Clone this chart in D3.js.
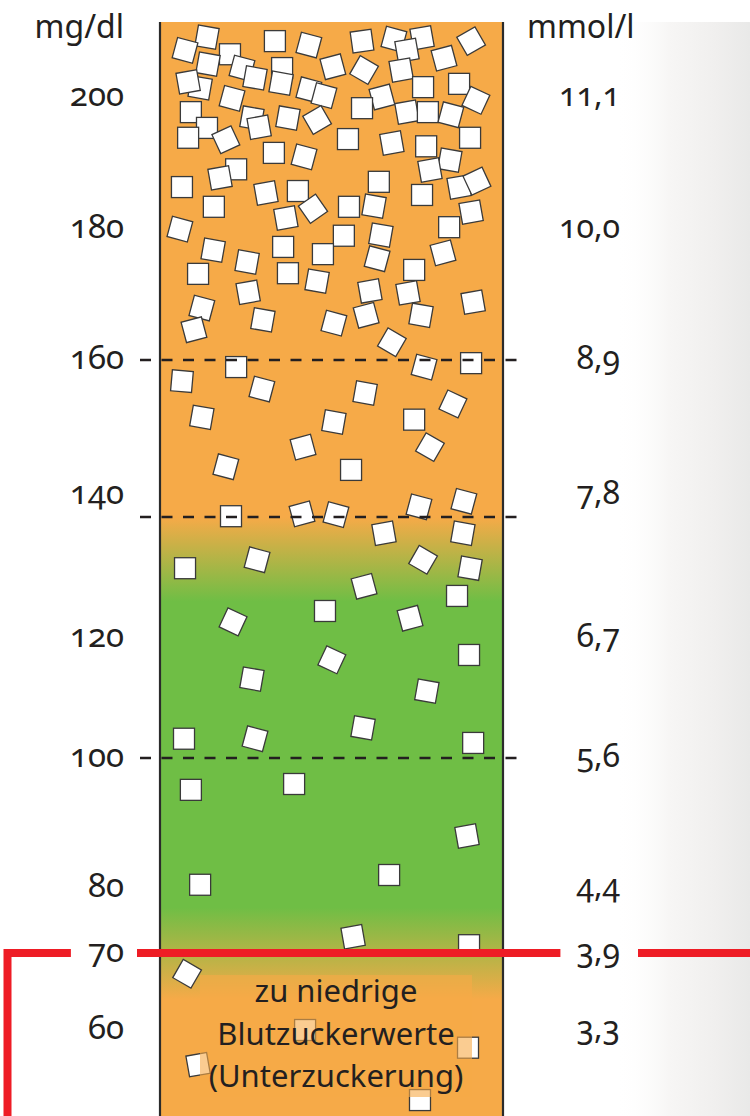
<!DOCTYPE html>
<html>
<head>
<meta charset="utf-8">
<script src="https://cdn.jsdelivr.net/npm/d3@7"></script>
<style>
  html, body { margin: 0; padding: 0; background: #ffffff; }
  svg { display: block; }
  text { font-family: "Noto Sans", "Open Sans", sans-serif; font-weight: 400; font-variant-numeric: oldstyle-nums; font-feature-settings: "onum" 1; fill: #231f20; }
</style>
</head>
<body>
<script>
// Blood glucose scale (mg/dl on the left, mmol/l on the right)
const mgdlTicks = [200, 180, 160, 140, 120, 100, 80, 70, 60];
const mmolTicks = ["11,1", "10,0", "8,9", "7,8", "6,7", "5,6", "4,4", "3,9", "3,3"];
const thresholdLines = [160, 140, 100];
const hypoLimit = 70;
const hypoLimitMmol = "3,9";

// colour zones of the column (mg/dl where each colour stop sits)
const zoneLevels = [140, 126, 77, 64];
const zoneColors = ["#F6AA48", "#6FBE45", "#6FBE45", "#F6AA48"];

const noteLines = ["zu niedrige", "Blutzuckerwerte", "(Unterzuckerung)"];

// sugar cubes: glucose level (mg/dl), position across the column (%), tilt (deg)
const cubeLevel = [
  209.1, 207.1, 208.5, 207.9, 208.5, 208.8, 209.0, 208.5, 206.5, 207.1,
  205.0, 204.4, 204.4, 204.6, 204.1, 205.9, 204.1, 201.4, 202.3, 202.9,
  202.1, 201.1, 200.2, 199.8, 200.0, 201.5, 202.0, 199.5, 197.7, 198.3,
  197.7, 197.7, 197.3, 196.8, 195.4, 196.8, 196.5, 195.3, 193.8, 193.5,
  193.6, 193.0, 193.8, 192.5, 191.5, 190.9, 190.4, 189.0, 187.7, 186.3,
  183.3, 185.4, 185.7, 183.0, 181.6, 183.3, 183.4, 187.1, 188.9, 185.1,
  186.3, 187.2, 182.5, 180.2, 179.9, 178.9, 177.2, 176.1, 179.0, 175.4,
  176.7, 174.9, 176.3, 173.1, 173.2, 172.0, 173.7, 170.5, 170.2, 170.3,
  167.9, 168.8, 166.1, 165.6, 166.8, 166.8, 164.6, 162.7, 159.1, 157.3,
  156.3, 159.1, 159.6, 155.8, 154.4, 152.7, 152.1, 152.4, 148.9, 148.9,
  146.4, 146.0, 140.1, 140.4, 140.3, 141.3, 142.0, 137.3, 137.3, 131.5,
  132.9, 132.9, 131.5, 128.5, 126.9, 124.4, 123.2, 122.6, 117.1, 116.3,
  113.1, 111.1, 105.0, 103.2, 103.2, 102.5, 95.1, 96.0, 88.0, 80.5,
  82.0, 72.5, 71.2, 67.3, 60.0, 57.7, 55.5, 50.9
];
const cubeAcross = [
  13.7, 7.3, 33.5, 43.4, 58.9, 68.2, 76.4, 90.7, 20.4, 72.0,
  14.0, 23.9, 35.6, 50.4, 59.5, 82.8, 70.3, 11.7, 8.2, 27.7,
  35.3, 43.4, 47.8, 21.0, 64.7, 76.7, 87.2, 92.1, 9.0, 58.9,
  72.0, 78.1, 84.8, 26.8, 28.9, 37.3, 45.8, 13.7, 8.2, 19.2,
  54.8, 67.6, 90.4, 77.6, 33.2, 42.0, 84.5, 22.2, 17.5, 6.4,
  15.7, 30.9, 40.2, 44.6, 36.7, 55.1, 62.4, 63.8, 78.7, 76.4,
  87.2, 92.4, 90.7, 84.3, 5.8, 53.6, 35.9, 47.5, 64.4, 63.3,
  15.5, 25.4, 82.5, 11.1, 37.3, 45.8, 74.1, 61.2, 72.3, 25.7,
  12.2, 91.3, 30.0, 50.7, 60.1, 76.1, 9.9, 67.6, 22.2, 6.4,
  29.7, 77.0, 90.7, 59.8, 85.4, 12.2, 50.7, 74.1, 41.7, 78.7,
  19.2, 55.7, 20.7, 41.4, 51.3, 75.5, 88.6, 65.3, 88.3, 7.3,
  28.3, 76.7, 90.4, 59.5, 86.6, 48.1, 72.9, 21.3, 90.1, 50.1,
  26.8, 77.8, 59.2, 27.7, 7.0, 91.3, 9.0, 39.1, 89.5, 11.7,
  66.8, 56.3, 90.1, 7.9, 42.3, 89.8, 11.1, 75.8
];
const cubeTilt = [
  10, 15, 0, 15, -8, 15, -10, -30, 0, -10,
  10, 15, 0, -15, 30, -15, -10, 10, -10, 10,
  10, 15, 15, 15, -15, 0, 0, 25, 0, 0,
  -10, 0, 15, 10, -10, 10, -30, 0, 0, -25,
  0, -10, 0, 0, 0, 15, 10, 0, -10, 0,
  0, -10, 0, -35, -10, 0, 10, 0, -10, 0,
  -10, -25, -10, 0, 15, 0, 0, 0, 10, 15,
  10, 10, -15, 0, 0, 10, 0, -10, -10, -10,
  15, -10, 10, 15, -15, 10, -15, 30, 0, 5,
  15, 15, 0, 10, 25, 10, 10, 0, -15, 30,
  15, 0, 0, -15, 15, 15, 15, -10, 10, 0,
  15, 30, 10, -15, 0, 0, -15, 25, 0, 25,
  10, 10, 10, 15, 0, 0, 0, 0, -10, 0,
  0, -10, 0, 30, 0, 0, -10, 0
];

const W = 750, H = 1116;
const colLeft = 160, colRight = 503, colTop = 22;

const svg = d3.select("body").append("svg")
  .attr("width", W).attr("height", H)
  .attr("viewBox", `0 0 ${W} ${H}`);

// vertical scale of the column
const y = d3.scaleLinear()
  .domain([200, 160, 140, 100, 70, 60])
  .range([97, 360, 517, 758, 953, 1030]);
const x = d3.scaleLinear().domain([0, 100]).range([colLeft, colRight]);

const defs = svg.append("defs");

// soft photo backdrop on the right edge
const haze = defs.append("linearGradient").attr("id", "haze")
  .attr("gradientUnits", "userSpaceOnUse")
  .attr("x1", 615).attr("x2", W).attr("y1", 0).attr("y2", 0);
haze.append("stop").attr("offset", 0).attr("stop-color", "#ffffff").attr("stop-opacity", 0);
haze.append("stop").attr("offset", 0.4).attr("stop-color", "#f7f6f5");
haze.append("stop").attr("offset", 0.75).attr("stop-color", "#f0efee");
haze.append("stop").attr("offset", 1).attr("stop-color", "#e9e9e8");
svg.append("rect")
  .attr("x", 615).attr("y", colTop).attr("width", W - 615).attr("height", H - colTop)
  .attr("fill", "url(#haze)");

// colour gradient of the column
const zone = defs.append("linearGradient").attr("id", "zone")
  .attr("gradientUnits", "userSpaceOnUse")
  .attr("x1", 0).attr("x2", 0).attr("y1", 0).attr("y2", H);
zone.selectAll("stop").data(zoneLevels).join("stop")
  .attr("offset", d => y(d) / H)
  .attr("stop-color", (d, i) => zoneColors[i]);

svg.append("rect")
  .attr("x", colLeft).attr("y", colTop)
  .attr("width", colRight - colLeft).attr("height", H - colTop)
  .attr("fill", "url(#zone)");

// sugar cubes
const cubeSize = 21;
const cubes = d3.range(cubeLevel.length);
svg.append("g").selectAll("rect").data(cubes).join("rect")
  .attr("x", -cubeSize / 2).attr("y", -cubeSize / 2)
  .attr("width", cubeSize).attr("height", cubeSize)
  .attr("transform", i => `translate(${x(cubeAcross[i])},${y(cubeLevel[i])}) rotate(${cubeTilt[i]})`)
  .attr("fill", "#ffffff")
  .attr("stroke", "#3a3a3a")
  .attr("stroke-width", 1.3);

// column borders
svg.append("g").selectAll("line").data([colLeft, colRight]).join("line")
  .attr("x1", d => d).attr("x2", d => d)
  .attr("y1", colTop).attr("y2", H)
  .attr("stroke", "#2b2b2b").attr("stroke-width", 2.2);

// threshold dashed lines
svg.append("g").selectAll("line").data(thresholdLines).join("line")
  .attr("x1", 140).attr("x2", 527)
  .attr("y1", d => y(d)).attr("y2", d => y(d))
  .attr("stroke", "#231f20").attr("stroke-width", 2.7)
  .attr("stroke-dasharray", "11,10.5");

// note about hypoglycaemia
const noteBox = { x0: 200, x1: 472, top: 975, bottom: 1097 };
svg.append("rect")
  .attr("x", noteBox.x0).attr("y", noteBox.top)
  .attr("width", noteBox.x1 - noteBox.x0).attr("height", noteBox.bottom - noteBox.top)
  .attr("fill", "#F6AA48").attr("opacity", 0.6);
svg.append("g").selectAll("text").data(noteLines).join("text")
  .attr("x", (noteBox.x0 + noteBox.x1) / 2)
  .attr("y", (d, i) => 1002 + i * 42.5)
  .attr("text-anchor", "middle")
  .attr("font-size", 31)
  .text(d => d);

// axis titles
svg.append("text").attr("x", 124).attr("y", 38)
  .attr("text-anchor", "end").attr("font-size", 32).text("mg/dl");
svg.append("text").attr("x", 527).attr("y", 38)
  .attr("text-anchor", "start").attr("font-size", 32).text("mmol/l");

// tick labels
const labelNudge = v => (v === 140 ? -22 : 0);
const leftLabels = svg.append("g").selectAll("text").data(mgdlTicks).join("text")
  .attr("x", 124)
  .attr("y", d => y(d) + 9 + labelNudge(d))
  .attr("text-anchor", "end").attr("font-size", 33)
  .text(d => d);
const rightLabels = svg.append("g").selectAll("text").data(mgdlTicks).join("text")
  .attr("x", 620)
  .attr("y", d => y(d) + 9 + labelNudge(d))
  .attr("text-anchor", "end").attr("font-size", 32)
  .text((d, i) => mmolTicks[i]);

// red hypoglycaemia limit line
const yLim = y(hypoLimit);
const lb = leftLabels.filter(d => d === hypoLimit).node().getBBox();
const rb = rightLabels.filter((d, i) => mmolTicks[i] === hypoLimitMmol).node().getBBox();
const red = svg.append("g")
  .attr("fill", "none").attr("stroke", "#EE1C25").attr("stroke-width", 8)
  .attr("stroke-linejoin", "miter");
red.append("path").attr("d", `M7.5,${H}V${yLim}H${lb.x - 17}`);
red.append("path").attr("d", `M${lb.x + lb.width + 13},${yLim}H${rb.x - 16}`);
red.append("path").attr("d", `M${rb.x + rb.width + 18},${yLim}H${W}`);
</script>
</body>
</html>
